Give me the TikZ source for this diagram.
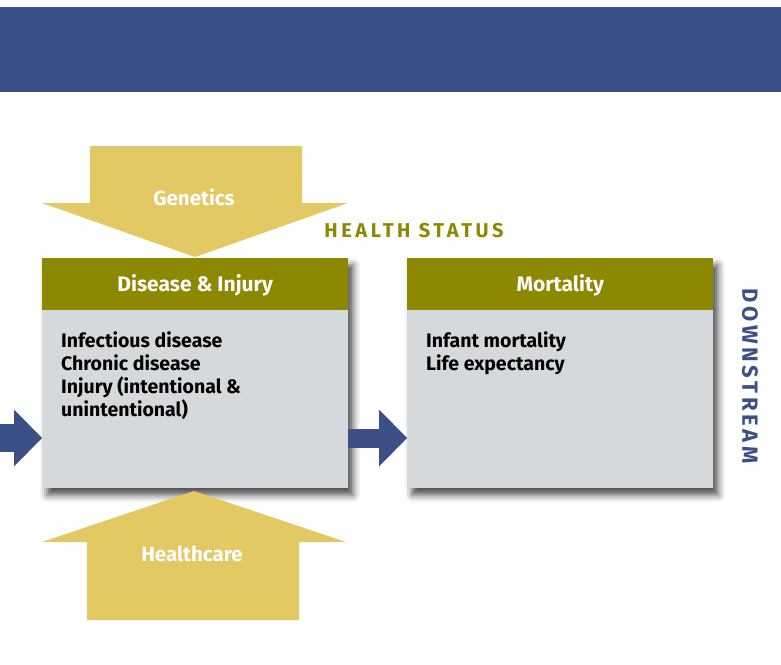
\documentclass[tikz,border=0pt]{standalone}
\usepackage{fontspec}
\setmainfont{Fira Sans}
\usetikzlibrary{arrows.meta,shadows.blur}
\definecolor{bandblue}{HTML}{3C4F87}
\definecolor{olive}{HTML}{8C8800}
\definecolor{gold}{HTML}{E2C964}
\definecolor{panelgrey}{HTML}{D5D9DB}
\tikzset{
  panel/.style={fill=panelgrey, minimum width=306pt, minimum height=230pt,
    anchor=north west, inner sep=0pt,
    blur shadow={shadow xshift=5pt, shadow yshift=-7pt,
      shadow blur radius=7pt, shadow opacity=70}},
  head/.style={fill=olive, text=white, minimum width=306pt, minimum height=52pt,
    anchor=north west, inner sep=0pt, text height=16pt, text depth=2pt,
    font=\bfseries\fontsize{21}{24}\selectfont},
  items/.style={anchor=north west, align=left, inner sep=0pt,
    font=\bfseries\fontsize{19.5}{23}\selectfont},
  arrowtext/.style={text=white, inner sep=0pt, font=\bfseries\fontsize{20.5}{24}\selectfont},
  status/.style={text=olive, inner sep=0pt,
    font=\bfseries\fontsize{20}{24}\selectfont\addfontfeature{LetterSpace=18}},
  flow/.style={draw=bandblue, -{Triangle[length=28pt,width=57pt,line width=0pt,fill=bandblue]}}
}
\begin{document}
\begin{tikzpicture}[x=1pt,y=-1pt]
  \useasboundingbox (0,0) rectangle (781,664);
  \fill[bandblue] (0,7) rectangle (781,92);

  % the two boxes
  \node[panel] (dis) at (42,258) {};
  \node[head] (dishead) at (42,258) {Disease \& Injury};
  \node[items] (disitems) at (61,331) {Infectious disease\\Chronic disease\\Injury (intentional \&\\unintentional)};

  \node[panel] (mort) at (407,258) {};
  \node[head] (morthead) at (407,258) {Mortality};
  \node[items] (mortitems) at (426,331) {Infant mortality\\Life expectancy};

  % influences from above and below
  \fill[gold] (90,146) -- (302,146) -- (302,203) -- (348,203) -- (195,257)
    -- (42,203) -- (90,203) -- cycle;
  \node[arrowtext] (gen) at (194,197) {Genetics};
  \fill[gold] (87,620) -- (299,620) -- (299,542) -- (346,542) -- (194,491)
    -- (42,542) -- (87,542) -- cycle;
  \node[arrowtext] (care) at (192,554) {Healthcare};

  \node[status] (hs) at (414,231) {HEALTH STATUS};
  \node[status, text=bandblue, rotate=-90,
    font=\bfseries\fontsize{22}{24}\selectfont\addfontfeature{LetterSpace=17}]
    (down) at (750,376) {DOWNSTREAM};

  \coordinate (in) at (0,438);
  \draw[flow, line width=28pt] (in) -- (dis.west |- in);
  \draw[flow, line width=19pt] (dis.east |- in) -- (mort.west |- in);
\end{tikzpicture}
\end{document}
